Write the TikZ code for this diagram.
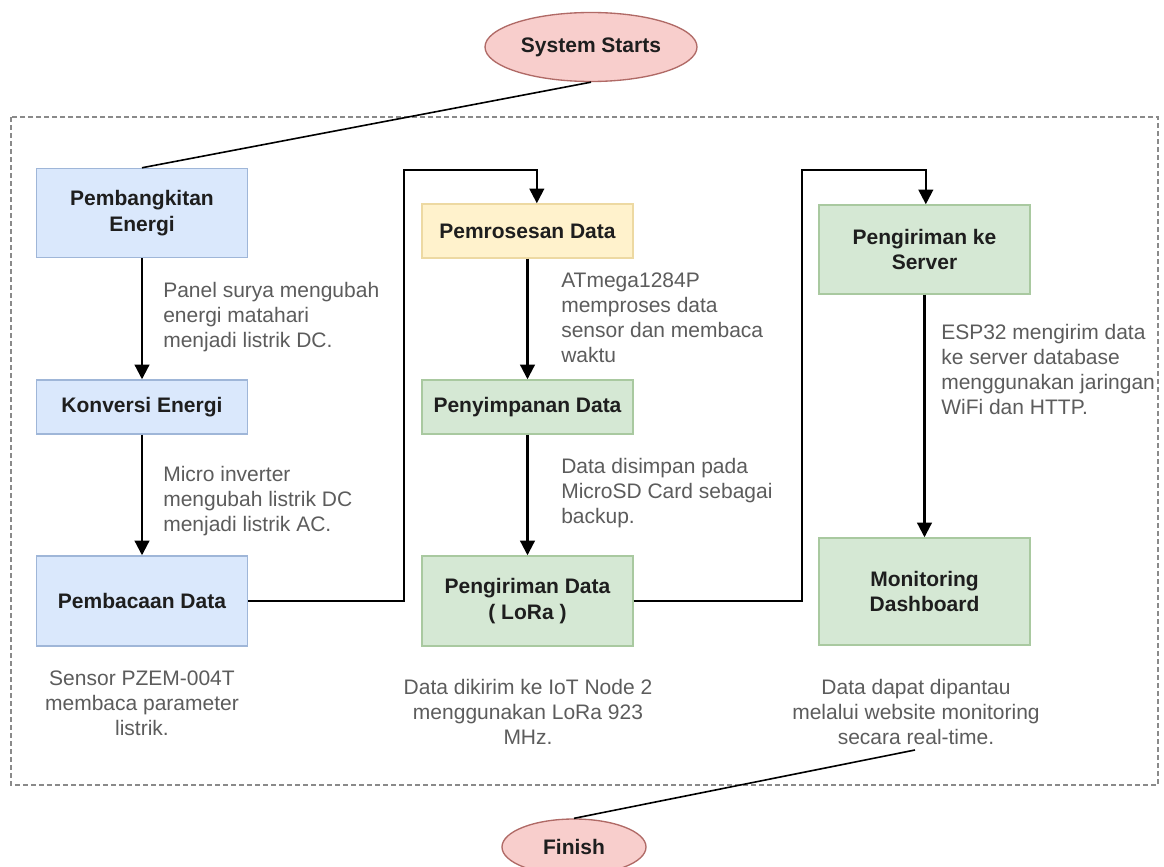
\documentclass[tikz,border=0pt]{standalone}
\usepackage{fontspec}
\setmainfont{Liberation Sans}
\usetikzlibrary{arrows.meta,shapes.geometric}

\definecolor{blueFill}{HTML}{DAE8FC}
\definecolor{blueLine}{HTML}{9FB6D8}
\definecolor{yellowFill}{HTML}{FFF2CC}
\definecolor{yellowLine}{HTML}{EDD9A2}
\definecolor{greenFill}{HTML}{D5E8D4}
\definecolor{greenLine}{HTML}{A9C9A0}
\definecolor{pinkFill}{HTML}{F8CECC}
\definecolor{pinkLine}{HTML}{B06A66}
\definecolor{boxText}{HTML}{1E1E1E}
\definecolor{noteGray}{HTML}{5C5C5C}
\definecolor{frameGray}{HTML}{8A8A8A}

\newcommand{\boxfont}{\fontsize{15.75pt}{19pt}\selectfont\bfseries}
\newcommand{\notefont}{\fontsize{15.75pt}{18.75pt}\selectfont}

\tikzset{
  stepbox/.style={rectangle, line width=1.1pt, minimum width=158pt,
    align=center, inner sep=2pt, font=\boxfont, text=boxText},
  bluebox/.style={stepbox, fill=blueFill, draw=blueLine},
  yellowbox/.style={stepbox, fill=yellowFill, draw=yellowLine},
  greenbox/.style={stepbox, fill=greenFill, draw=greenLine},
  terminal/.style={ellipse, fill=pinkFill, draw=pinkLine, line width=1pt,
    inner sep=0pt, font=\boxfont, text=boxText},
  flow/.style={line width=1.65pt, -{Triangle[width=11pt,length=11pt]}},
  link/.style={line width=1.2pt},
  note/.style={font=\notefont, text=noteGray, inner sep=0pt},
  frame/.style={draw=frameGray, line width=1.5pt, dash pattern=on 3.4pt off 2.6pt},
}

\begin{document}
\begin{tikzpicture}[x=0.75pt, y=-0.75pt]
  % canvas
  \fill[white] (0,0) rectangle (1164,867);
  \useasboundingbox (0,0) rectangle (1164,867);

  % dashed system boundary
  \draw[frame] (11,117) rectangle (1158,785);

  % start / end terminals
  \node[terminal, minimum width=159pt, minimum height=51.75pt] (start) at (591,47) {System Starts};
  \node[terminal, minimum width=108pt, minimum height=42pt] (finish) at (574,847) {Finish};

  % column 1: energy side
  \node[bluebox, minimum height=66.75pt] (gen)  at (142,213) {Pembangkitan\\Energi};
  \node[bluebox, minimum height=40.5pt]  (conv) at (142,407) {Konversi Energi};
  \node[bluebox, minimum height=67.5pt]  (read) at (142,601) {Pembacaan Data};

  % column 2: IoT node 1
  \node[yellowbox, minimum height=40.5pt] (proc)  at (527.5,231) {Pemrosesan Data};
  \node[greenbox,  minimum height=40.5pt] (store) at (527.5,407) {Penyimpanan Data};
  \node[greenbox,  minimum height=67.5pt] (lora)  at (527.5,601) {Pengiriman Data\\( LoRa )};

  % column 3: server side
  \node[greenbox, minimum height=66.75pt] (server) at (924.5,249.5) {Pengiriman ke\\Server};
  \node[greenbox, minimum height=80.25pt] (mon)    at (924.5,591.5) {Monitoring\\Dashboard};

  % descriptions
  \node[note, anchor=west, align=left] (n1) at (163,317)
    {Panel surya mengubah\\energi matahari\\menjadi listrik DC.};
  \node[note, anchor=west, align=left] (n2) at (163,501)
    {Micro inverter\\mengubah listrik DC\\menjadi listrik AC.};
  \node[note, align=center] (n3) at (142,703)
    {Sensor PZEM-004T\\membaca parameter\\listrik.};
  \node[note, anchor=west, align=left] (n4) at (561,317.5)
    {ATmega1284P\\memproses data\\sensor dan membaca\\waktu};
  \node[note, anchor=west, align=left] (n5) at (561,493)
    {Data disimpan pada\\MicroSD Card sebagai\\backup.};
  \node[note, align=center] (n6) at (528,712)
    {Data dikirim ke IoT Node 2\\menggunakan LoRa 923\\MHz.};
  \node[note, anchor=west, align=left] (n7) at (941,369)
    {ESP32 mengirim data\\ke server database\\menggunakan jaringan\\WiFi dan HTTP.};
  \node[note, align=center] (n8) at (916,712)
    {Data dapat dipantau\\melalui website monitoring\\secara real-time.};

  % routing points
  \coordinate (j1) at (404,170);
  \coordinate (j2) at (802,170);
  \coordinate (tail) at (915,750);

  % connectors
  \draw[link] (start.south) -- (gen.north);
  \draw[flow] (gen) -- (conv);
  \draw[flow] (conv) -- (read);
  \draw[flow] (read.east) -| (j1) -| ([xshift=7pt]proc.north);
  \draw[flow] (proc) -- (store);
  \draw[flow] (store) -- (lora);
  \draw[flow] (lora.east) -| (j2) -| ([xshift=1pt]server.north);
  \draw[flow] (server) -- (mon);
  \draw[link] (finish.north) -- (tail);
\end{tikzpicture}
\end{document}
